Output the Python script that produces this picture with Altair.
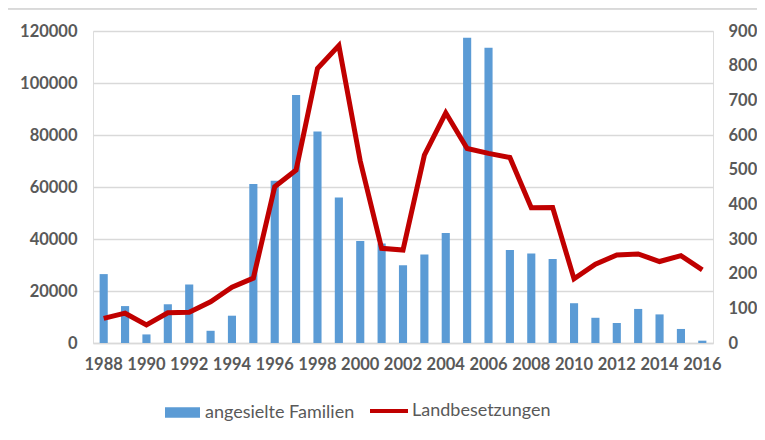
import altair as alt
import pandas as pd

years = list(range(1988, 2017))
families = [26500, 14200, 3300, 14900, 22500, 4700, 10500, 61200, 62400, 95400,
            81300, 56000, 39200, 38300, 29900, 34000, 42300, 117400, 113600, 35800,
            34400, 32300, 15300, 9700, 7700, 13100, 11000, 5400, 900]
occupations = [71, 86, 52, 87, 89, 119, 161, 187, 451, 499,
               792, 858, 525, 273, 268, 542, 664, 561, 547, 535,
               390, 391, 185, 227, 254, 257, 235, 252, 211]
bar_name = "angesielte Familien"
line_name = "Landbesetzungen"
left_ticks = [0, 20000, 40000, 60000, 80000, 100000, 120000]
right_ticks = [0, 100, 200, 300, 400, 500, 600, 700, 800, 900]
x_labels = list(range(1988, 2017, 2))

df = pd.DataFrame({"year": years, "families": families, "occ": occupations,
                   "s1": bar_name, "s2": line_name})

FONT = "Lato"
GREY = "#595959"
GRID = "#D9D9D9"
AX_SIZE = 16.5

x_enc = alt.X("year:O", title=None,
              scale=alt.Scale(paddingInner=0.62),
              axis=alt.Axis(values=x_labels, labelAngle=0, labelFont=FONT, labelFontSize=AX_SIZE,
                            labelFontWeight="bold", labelColor=GREY, ticks=False,
                            domainColor=GRID, domainWidth=1.5, labelPadding=13, grid=False))

bars = alt.Chart(df).mark_bar().encode(
    x=x_enc,
    y=alt.Y("families:Q", title=None,
            scale=alt.Scale(domain=[0, 120000], nice=False),
            axis=alt.Axis(values=left_ticks, format="d", labelFont=FONT, labelFontSize=AX_SIZE,
                          labelFontWeight="bold", labelColor=GREY, ticks=False, domain=False,
                          grid=True, gridColor=GRID, gridWidth=1.5, labelPadding=16, orient="left")),
    fill=alt.Fill("s1:N", scale=alt.Scale(domain=[bar_name], range=["#5B9BD5"]),
                  legend=alt.Legend(title=None, orient="none", legendX=72, legendY=364,
                                    symbolType="M-1,-0.3H1V0.3H-1Z", symbolSize=1225,
                                    symbolStrokeWidth=0, labelFont=FONT, labelFontSize=18,
                                    labelColor=GREY, labelOffset=5)),
)

line = alt.Chart(df).mark_line(strokeWidth=5, strokeJoin="miter").encode(
    x=alt.X("year:O"),
    y=alt.Y("occ:Q", title=None,
            scale=alt.Scale(domain=[0, 900], nice=False),
            axis=alt.Axis(values=right_ticks, format="d", labelFont=FONT, labelFontSize=AX_SIZE,
                          labelFontWeight="bold", labelColor=GREY, ticks=False, domain=False,
                          grid=False, labelPadding=15, orient="right")),
    stroke=alt.Stroke("s2:N", scale=alt.Scale(domain=[line_name], range=["#C00000"]),
                      legend=alt.Legend(title=None, orient="none", legendX=275, legendY=359,
                                        symbolType="M-1,0H1", symbolSize=1444,
                                        symbolStrokeWidth=4, labelFont=FONT, labelFontSize=18,
                                        labelColor=GREY, labelOffset=2)),
)

frame_top = alt.Chart(df).mark_rule(color=GRID, strokeWidth=1.5).encode(
    x=alt.value(-88), x2=alt.value(700), y=alt.value(-22.5))
frame_left = alt.Chart(df).mark_rule(color=GRID, strokeWidth=1.5).encode(
    x=alt.value(-87.5), y=alt.value(-23), y2=alt.value(420))

chart = alt.layer(frame_top, frame_left, bars, line).resolve_scale(
    y="independent", fill="independent", stroke="independent"
).properties(
    width=620, height=312,
    autosize=alt.AutoSizeParams(type="none"),
    padding={"left": 85, "top": 23, "right": 44, "bottom": 85},
).configure_view(stroke=None).configure(background="white")

chart.save("out.html", embed_options={"renderer": "svg", "actions": False})
